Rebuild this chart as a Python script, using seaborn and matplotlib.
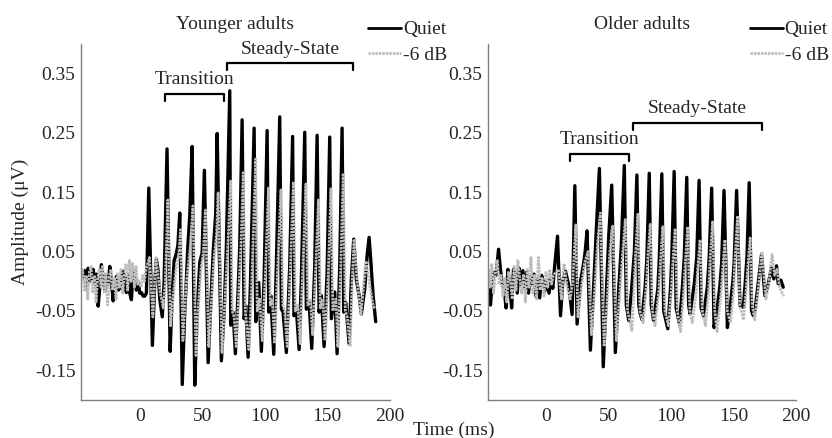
import numpy as np
import pandas as pd
import seaborn as sns
import matplotlib.pyplot as plt

# ---- data (time in ms, amplitude in uV) ----
young_quiet_t = [-47, -45.3, -44, -42.7, -41.3, -40, -38.7, -37.3, -36, -34.7, -33.3, -32, -30.7, -29.3,
                 -28, -26.7, -25.3, -24, -22.7, -21.3, -20, -18.7, -17.3, -16, -14.7, -13.3, -12, -10.7,
                 -9.3, -8, -6.7, -5.3, -4, -2.7, -1.3, 0, 1.3, 2.7, 4, 5.3,
                 7.2, 10.1, 12, 13.3, 14.5, 16, 18, 19.5,
                 21.8, 24.3, 26, 27.5, 29, 30.5,
                 32, 34, 36, 37.3, 38.5, 40,
                 41.9, 44, 45.9, 48, 49.9,
                 51.7, 54.7, 56.5, 58.7, 60.8,
                 61.9, 65.3, 67.5, 69.3,
                 72, 72.8, 74.7, 76.5, 78.1, 80,
                 81.9, 83.5, 84.8, 86.7, 88.5,
                 91.5, 92.8, 95.2, 97.3, 99.5,
                 101.9, 103.2, 104.8, 107.2, 109.3,
                 112, 113.3, 114.7, 117.3, 120,
                 122.3, 123.4, 125.3, 127.5, 129.3,
                 132, 133.3, 135.5, 137.6, 140,
                 141.9, 143.5, 145.3, 147.5, 149.9,
                 152, 153.3, 156, 157.9, 160,
                 161.9, 163.2, 164.8, 167.5, 169.3,
                 171.2, 173.3, 175.5, 177.3, 180, 181.9, 183.5, 184.8, 186.7, 188.8]
young_quiet_v = [0.015, 0.008, 0.018, -0.011, 0.022, 0.0, 0.003, 0.02, -0.002, 0.012, -0.042, -0.01, 0.028, 0.005,
                 -0.014, 0.01, -0.005, 0.025, 0.0, -0.033, -0.005, 0.008, -0.015, -0.012, 0.005, 0.017, -0.003, -0.019,
                 0.01, -0.02, -0.031, 0.017, 0.005, -0.015, 0.0, -0.02, -0.019, -0.025, -0.025, -0.02,
                 0.157, -0.108, 0.0, 0.037, 0.02, -0.03, -0.06, 0.0,
                 0.223, -0.118, -0.02, 0.035, 0.045, 0.06,
                 0.115, -0.174, -0.05, 0.003, 0.06, 0.11,
                 0.227, -0.175, -0.052, 0.032, 0.048,
                 0.187, -0.137, -0.052, 0.048, 0.115,
                 0.249, -0.134, -0.052, 0.059,
                 0.321, -0.074, -0.052, -0.122, -0.047, 0.059,
                 0.272, -0.063, -0.041, -0.128, -0.008,
                 0.258, -0.068, -0.002, -0.118, 0.003,
                 0.254, -0.052, -0.024, -0.123, 0.026,
                 0.277, -0.047, -0.052, -0.12, 0.026,
                 0.244, -0.058, -0.047, -0.115, 0.003,
                 0.251, -0.047, -0.035, -0.113, 0.026,
                 0.246, -0.052, -0.024, -0.11, 0.014,
                 0.243, -0.063, -0.018, -0.122, 0.026,
                 0.258, -0.052, -0.036, -0.105, 0.003,
                 0.071, 0.003, -0.024, -0.055, -0.013, 0.043, 0.074, 0.037, -0.024, -0.068]

young_noise_t = [-47, -45.7, -44.3, -43, -41.7, -40.3, -39, -37.7, -36.3, -35, -33.7, -32.3, -31, -29.7,
                 -28.3, -27, -25.7, -24.3, -23, -21.7, -20.3, -19, -17.7, -16.3, -15, -13.7, -12.3, -11,
                 -9.7, -8.3, -7, -5.7, -4.3, -3, -1.7, -0.3, 1, 2.3, 3.7, 5,
                 7.8, 10.5, 13, 14.5, 16.5, 18.8, 20.5,
                 22.5, 24.6, 27, 29.5, 31,
                 32.7, 34.5, 37, 38.5, 40.5,
                 42.6, 45, 47, 49, 51,
                 52.5, 55.2, 57.5, 59.5, 61.5,
                 62.7, 65.8, 68, 70.5,
                 72.8, 74, 75.5, 77.2, 79, 81,
                 82.8, 84.5, 87.3, 89.5,
                 92.8, 94, 96, 98, 100.5,
                 103, 104.5, 106, 108, 110.3,
                 113, 114.5, 116, 118, 120.5,
                 123, 124.5, 126.5, 128.3, 130.3,
                 133, 134.5, 136.5, 138.3, 140.8,
                 143, 144.5, 146.5, 148.3, 150.8,
                 153, 154.5, 157, 158.5, 160.8,
                 162.8, 164.5, 166, 168.3, 170,
                 171.5, 174, 177, 179, 181, 183.5, 186.7, 188.5]
young_noise_v = [0.0, 0.02, -0.015, 0.01, -0.03, 0.015, 0.025, -0.02, 0.01, -0.035, 0.005, 0.02, -0.01, 0.025,
                 -0.02, 0.015, -0.04, 0.01, 0.02, -0.015, 0.005, -0.03, 0.015, -0.01, 0.02, -0.02, 0.01, 0.03,
                 -0.015, 0.035, 0.0, 0.03, -0.01, 0.025, -0.005, 0.0, -0.01, 0.01, 0.0, 0.02,
                 0.04, -0.06, 0.04, 0.01, -0.02, -0.045, 0.0,
                 0.137, -0.075, -0.02, 0.03, 0.04,
                 0.087, -0.1, -0.01, 0.02, 0.06,
                 0.127, -0.125, -0.04, 0.02, 0.05,
                 0.12, -0.11, -0.03, 0.04, 0.08,
                 0.149, -0.12, -0.04, 0.06,
                 0.169, -0.05, -0.06, -0.11, -0.03, 0.06,
                 0.183, -0.05, -0.115, -0.01,
                 0.206, -0.05, -0.03, -0.1, 0.01,
                 0.157, -0.04, -0.03, -0.105, 0.02,
                 0.154, -0.04, -0.05, -0.11, 0.02,
                 0.168, -0.05, -0.04, -0.105, 0.01,
                 0.164, -0.04, -0.03, -0.09, 0.02,
                 0.137, -0.045, -0.03, -0.1, 0.01,
                 0.156, -0.05, -0.03, -0.11, 0.02,
                 0.182, -0.05, -0.06, -0.11, 0.0,
                 0.071, 0.0, -0.055, -0.01, 0.034, 0.0, -0.041, -0.047]

old_quiet_t = [-46.4, -45, -43.5, -42, -40.5, -38.5, -37, -35.5, -34, -32.5, -31, -29.5, -28, -26.5,
               -25, -23.5, -22, -20.5, -19, -17.5, -16, -14.5, -13, -11.5, -10, -8.5, -7, -5.5,
               -4, -2.5, -1, 0.5, 2, 3.5, 5, 6.5,
               8.8, 11.2, 13, 15.2, 17.9, 20.5,
               22.7, 24.5, 27.2, 29.9, 31,
               32.5, 35.2, 38, 40,
               42.4, 45.5, 48, 50,
               52.3, 55.2, 58, 60,
               62.4, 64, 65.9, 68, 70.5,
               72.5, 74, 75, 76.5, 79.2, 80.5,
               82.4, 84, 85.9, 89.3, 90.5,
               92.5, 94, 97.3, 99.5, 100.5,
               102.4, 104, 106.7, 109, 110.5,
               112.5, 114, 115.2, 118.5, 120.5,
               122.4, 124, 125.9, 129, 130.5,
               132.5, 134.4, 136, 139, 140.5,
               142.4, 145.1, 147, 149.5, 150.5,
               152.5, 155.2, 157.9, 159.5, 160.8,
               162.6, 164.5, 165.9, 167.5, 170,
               172.5, 175.2, 177.5, 180.5, 182.4, 184.5, 185.9, 188, 189.9]
old_quiet_v = [-0.008, -0.04, 0.0, 0.015, 0.01, 0.054, 0.02, -0.005, -0.012, -0.045, 0.02, -0.01, -0.045, 0.02,
               0.015, -0.02, 0.022, -0.005, 0.018, -0.01, 0.015, -0.02, 0.01, -0.005, 0.012, -0.025, 0.005, -0.028,
               0.01, 0.0, -0.015, 0.003, -0.02, 0.005, -0.012, 0.025,
               0.076, -0.058, 0.0, 0.017, -0.008, -0.056,
               0.161, -0.072, -0.001, 0.032, 0.05,
               0.085, -0.116, 0.0, 0.09,
               0.19, -0.144, -0.02, 0.08,
               0.162, -0.12, -0.01, 0.06,
               0.195, -0.04, -0.066, -0.02, 0.05,
               0.179, -0.04, -0.053, -0.064, -0.008, 0.04,
               0.182, -0.04, -0.066, -0.013, 0.04,
               0.181, -0.05, -0.08, -0.01, 0.04,
               0.185, -0.045, -0.072, -0.01, 0.04,
               0.175, -0.04, -0.055, -0.005, 0.04,
               0.17, -0.045, -0.058, -0.01, 0.04,
               0.157, -0.078, -0.06, -0.01, 0.03,
               0.153, -0.078, -0.05, 0.0, 0.03,
               0.153, -0.041, -0.044, 0.0, 0.04,
               0.166, -0.05, -0.058, -0.045, 0.0,
               0.045, -0.024, -0.008, 0.023, 0.004, 0.026, -0.004, 0.002, -0.01]

old_noise_t = [-46.4, -45.2, -44, -42.5, -41, -39.5, -38, -36.5, -35, -33.5, -32, -30.5, -29, -27.5,
               -26, -24.5, -23, -21.5, -20, -18.5, -17, -15.5, -14, -12.5, -11, -9.5, -8, -6.5,
               -5, -3.5, -2, -0.5, 1, 2.5, 4, 5.5,
               9.5, 12, 14, 16.5, 19, 21,
               23.5, 25.2, 28, 30.5,
               33.3, 36, 38.8, 40.8,
               43.2, 46.2, 48.8, 50.8,
               53.1, 56, 58.8, 60.8,
               63.2, 65, 68.5, 70, 71.3,
               73.3, 75, 77.5, 80, 81.3,
               83.2, 85, 87, 90, 91.3,
               93.3, 95, 97.8, 100, 101.3,
               103.2, 105, 107.5, 110, 111.3,
               113.3, 115, 117, 120, 121.3,
               123.2, 125, 127.5, 130, 131.3,
               133.3, 135, 136.8, 140, 141.3,
               143.2, 145, 147.5, 150, 151.3,
               153.3, 155, 158, 160, 161.3,
               163.4, 165, 167, 169, 170.5,
               172.8, 176, 178.5, 181, 183, 185, 187, 189, 190.2]
old_noise_v = [0.02, -0.01, 0.03, -0.02, 0.015, 0.035, -0.005, 0.01, -0.025, 0.005, -0.035, 0.015, 0.0, -0.03,
               0.025, -0.015, 0.035, 0.005, -0.02, 0.01, -0.035, 0.02, -0.01, 0.04, -0.02, 0.01, -0.03, 0.04,
               -0.015, 0.005, -0.025, 0.015, -0.01, 0.02, -0.005, 0.01,
               0.02, -0.03, 0.03, -0.01, -0.03, 0.0,
               0.095, -0.06, -0.01, 0.03,
               0.05, -0.09, -0.01, 0.06,
               0.115, -0.11, -0.03, 0.05,
               0.093, -0.1, -0.02, 0.04,
               0.104, -0.05, -0.083, -0.02, 0.04,
               0.113, -0.05, -0.07, -0.01, 0.04,
               0.096, -0.05, -0.075, -0.02, 0.03,
               0.092, -0.05, -0.075, -0.02, 0.03,
               0.089, -0.05, -0.085, -0.02, 0.03,
               0.092, -0.05, -0.07, -0.02, 0.02,
               0.07, -0.05, -0.075, -0.02, 0.04,
               0.1, -0.05, -0.085, -0.02, 0.02,
               0.07, -0.05, -0.07, -0.02, 0.04,
               0.11, -0.04, -0.065, -0.02, 0.02,
               0.073, -0.04, -0.065, -0.03, 0.0,
               0.05, -0.03, 0.0, 0.045, 0.01, 0.02, -0.01, -0.02, -0.025]

conditions = ['Quiet', '-6 dB']
panel_titles = ['Younger adults', 'Older adults']
x_ticks = [0, 50, 100, 150, 200]
y_ticks = [-0.15, -0.05, 0.05, 0.15, 0.25, 0.35]
y_tick_labels = ['-0.15', '-0.05', '0.05', '0.15', '0.25', '0.35']

# brackets: (label, start ms, end ms, bracket height) per panel
young_brackets = [('Transition', 20, 67, 0.315), ('Steady-State', 69.6, 171, 0.367)]
old_brackets = [('Transition', 19, 66.4, 0.214), ('Steady-State', 69.6, 172.8, 0.266)]


def make_df(qt, qv, nt, nv):
    a = pd.DataFrame({'time': qt, 'amp': qv, 'cond': conditions[0]})
    b = pd.DataFrame({'time': nt, 'amp': nv, 'cond': conditions[1]})
    return pd.concat([a, b], ignore_index=True)


df_young = make_df(young_quiet_t, young_quiet_v, young_noise_t, young_noise_v)
df_old = make_df(old_quiet_t, old_quiet_v, old_noise_t, old_noise_v)

sns.set_theme(style='white')
plt.rcParams['font.family'] = ['Liberation Serif', 'DejaVu Serif']
plt.rcParams['font.size'] = 14

fig = plt.figure(figsize=(8.32, 4.38), dpi=100)
ax1 = fig.add_axes([0.0974, 0.0868, 0.371, 0.813])
ax2 = fig.add_axes([0.5865, 0.0868, 0.370, 0.813])

palette = {'Quiet': 'black', '-6 dB': '#bcbcbc'}
dashes = {'Quiet': '', '-6 dB': (0.9, 0.35)}

for ax, df, title, brackets, leg_x in [(ax1, df_young, panel_titles[0], young_brackets, 0.93),
                                       (ax2, df_old, panel_titles[1], old_brackets, 0.85)]:
    sns.lineplot(data=df, x='time', y='amp', hue='cond', style='cond', hue_order=conditions,
                 style_order=conditions, palette=palette, dashes=dashes, estimator=None,
                 sort=False, ax=ax, legend=True)
    for line in ax.get_lines():
        if line.get_color() == 'black':
            line.set_linewidth(2.4)
        else:
            line.set_linewidth(2.0)
    ax.set_xlim(-47, 200)
    ax.set_ylim(-0.2, 0.4)
    ax.set_xticks(x_ticks)
    ax.set_yticks(y_ticks)
    ax.set_yticklabels(y_tick_labels)
    ax.tick_params(direction='in', length=3, width=0.8, color='#808080', labelsize=14, pad=4)
    ax.tick_params(axis='x', pad=6)
    sns.despine(ax=ax)
    for s in ['left', 'bottom']:
        ax.spines[s].set_color('#808080')
        ax.spines[s].set_linewidth(1.0)
    ax.set_title(title, fontsize=14, pad=11)
    ax.set_xlabel('')
    ax.set_ylabel('')

    for label, x0, x1, yb in brackets:
        ax.plot([x0, x0, x1, x1], [yb - 0.011, yb, yb, yb - 0.011], color='black', lw=1.6)
        ax.text((x0 + x1) / 2, yb + 0.01, label, ha='center', va='bottom', fontsize=14)

    sns.move_legend(ax, 'upper left', bbox_to_anchor=(leg_x, 1.065), frameon=False, title=None,
                    fontsize=14, handlelength=1.7, handletextpad=0.1, labelspacing=0.4,
                    borderpad=0, borderaxespad=0)
    for h in ax.get_legend().legend_handles:
        h.set_linewidth(2.0)

ax1.set_ylabel('Amplitude (\u03bcV)', fontsize=14)
fig.text(454 / 832, 1 - 430 / 438, 'Time (ms)', ha='center', va='center', fontsize=14)

fig.savefig('out.png', dpi=100)
